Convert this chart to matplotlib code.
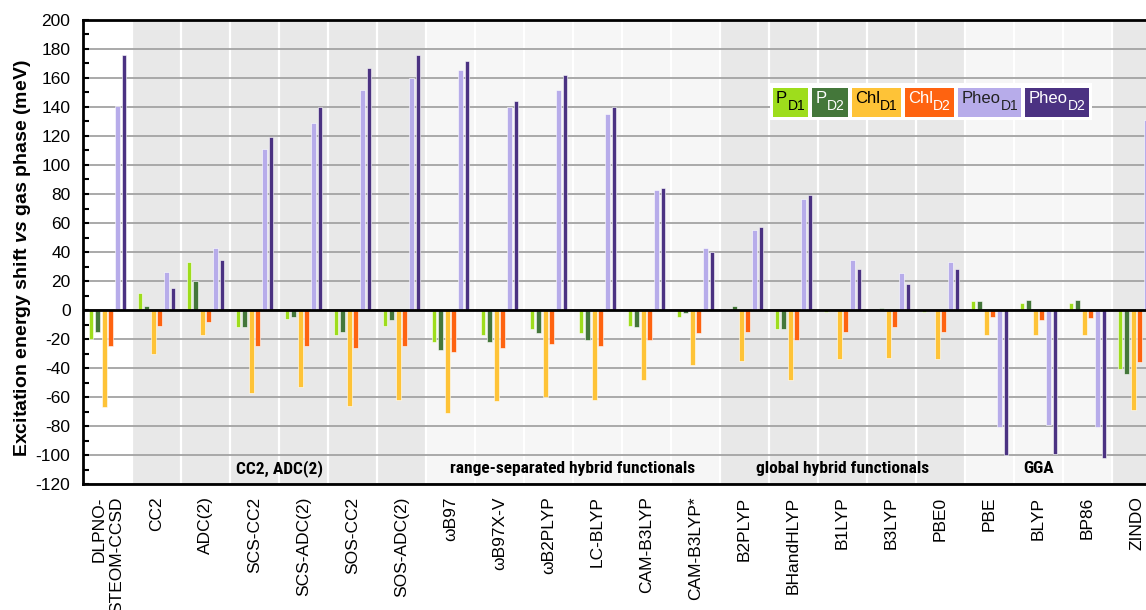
import matplotlib
matplotlib.use("Agg")
import matplotlib.pyplot as plt
from matplotlib import font_manager
from matplotlib.patches import Rectangle
from matplotlib.ticker import MultipleLocator
import numpy as np

plt.rcParams['font.family'] = ['Liberation Sans', 'DejaVu Sans']
plt.rcParams['axes.unicode_minus'] = False
plt.rcParams['mathtext.fontset'] = 'custom'
plt.rcParams['mathtext.rm'] = 'Liberation Sans'
plt.rcParams['mathtext.it'] = 'Liberation Sans:italic'
plt.rcParams['mathtext.bf'] = 'Liberation Sans:bold'
plt.rcParams['mathtext.bfit'] = 'Liberation Sans:bold:italic'
plt.rcParams['mathtext.default'] = 'regular'

methods = ["DLPNO-\nSTEOM-CCSD", "CC2", "ADC(2)", "SCS-CC2", "SCS-ADC(2)", "SOS-CC2",
           "SOS-ADC(2)", "ωB97", "ωB97X-V", "ωB2PLYP", "LC-BLYP", "CAM-B3LYP",
           "CAM-B3LYP*", "B2PLYP", "BHandHLYP", "B1LYP", "B3LYP", "PBE0", "PBE",
           "BLYP", "BP86", "ZINDO"]

# excitation energy shifts (meV) per pigment
p_d1 = [-20, 12, 33, -12, -6, -17, -11, -22, -17, -13, -16, -11, -4.5, 1, -13, -1.5, 0, -1.5, 6.5, 5, 5, -41]
p_d2 = [-15, 3, 20, -12, -4.5, -15, -7, -27.5, -22, -16, -21, -12, -2, 3, -13, 0, 1.5, 0, 6.5, 7, 7, -44]
chl_d1 = [-67, -30, -17, -57, -53, -66, -62, -71, -63, -60, -62, -48, -38, -35, -48, -34, -33, -34, -17, -17, -17, -69]
chl_d2 = [-25, -11, -8, -25, -25, -26, -25, -29, -26.5, -23.5, -25, -21, -16, -15, -21, -15, -12, -15, -4.5, -7, -5.5, -36]
pheo_d1 = [141, 26, 43, 111, 129, 152, 160, 165.5, 140, 152, 135, 83, 43, 55, 76.5, 34.5, 25.5, 33, -81, -79, -81, 131]
pheo_d2 = [176, 15, 34.5, 119, 140, 167, 176, 172, 144, 162, 140, 84, 40, 57.5, 79, 28, 18, 28, -100, -99, -102, 150]

series = [p_d1, p_d2, chl_d1, chl_d2, pheo_d1, pheo_d2]
legend_names = ["P", "P", "Chl", "Chl", "Pheo", "Pheo"]
legend_subs = ["D1", "D2", "D1", "D2", "D1", "D2"]
colors = ["#9edd1c", "#44773a", "#fec337", "#fe6310", "#b7acea", "#4b3282"]
text_colors = ["black", "white", "black", "white", "#222222", "white"]

# method families: (first index, last index, label, shade)
groups = [(1, 6, "CC2, ADC(2)", "#e8e8e8"),
          (7, 12, "range-separated hybrid functionals", "#f6f6f6"),
          (13, 17, "global hybrid functionals", "#e8e8e8"),
          (18, 20, "GGA", "#f6f6f6"),
          (21, 21, "", "#e8e8e8")]

# narrow bold face for the family captions, if one is installed
installed = {f.name for f in font_manager.fontManager.ttflist}
if "Roboto Condensed" in installed:
    group_font = dict(family="Roboto Condensed", fontsize=12.5)
elif "Liberation Sans Narrow" in installed:
    group_font = dict(family="Liberation Sans Narrow", fontsize=12.5)
else:
    group_font = dict(family="Liberation Sans", fontsize=10.5)

W, H = 1146, 610
fig = plt.figure(figsize=(W / 100, H / 100), dpi=100)
ax = fig.add_axes([83 / W, 1 - 484 / H, 1078 / W, 464 / H])

x = np.arange(len(methods))
for start, stop, name, shade in groups:
    ax.axvspan(start - 0.5, stop + 0.5, color=shade, lw=0, zorder=0.1)
    for b in range(start, stop + 1):
        ax.axvline(b - 0.5, color="white", lw=1.6, zorder=0.2)
    if name:
        ax.text((start + stop) / 2, -109, name, ha="center", va="center",
                fontweight="bold", zorder=4, **group_font)

step, width = 0.135, 0.1
for j, vals in enumerate(series):
    ax.bar(x + (j - 2.5) * step, vals, width=width, color=colors[j],
           edgecolor="white", linewidth=0.4, zorder=2)

ax.axhline(0, color="black", lw=2, zorder=3)
ax.set_xlim(-0.5, len(methods) - 0.5)
ax.set_ylim(-120, 200)
ax.yaxis.set_major_locator(MultipleLocator(20))
ax.yaxis.set_minor_locator(MultipleLocator(10))
ax.set_axisbelow(True)
ax.yaxis.grid(True, color="#a3a3a3", lw=1.3)
ax.tick_params(axis="y", which="both", direction="in", length=4, width=1.5,
               labelsize=12.5, pad=9)
ax.set_xticks(x)
ax.set_xticklabels(methods, rotation=90, ha="center", va="top",
                   multialignment="right")
ax.tick_params(axis="x", length=0, labelsize=12.5, pad=9)
for s in ax.spines.values():
    s.set_linewidth(2)

ax.set_ylabel(r"$\mathbf{Excitation\ energy\ shift}\ \mathbfit{vs}\ \mathbf{gas\ phase\ (meV)}$",
              fontsize=14)
ax.yaxis.set_label_coords(-0.046, 0.487)

# legend: labels printed inside coloured boxes, measured in pixels
fig.canvas.draw()
renderer = fig.canvas.get_renderer()
xpos = 773
box_top, box_bot = H - 88, H - 117
base_main, base_sub = H - 103, H - 109.5
for name, sub, col, tc in zip(legend_names, legend_subs, colors, text_colors):
    t1 = fig.text((xpos + 3) / W, base_main / H, name, ha="left", va="baseline",
                  color=tc, fontsize=12, zorder=6)
    fig.canvas.draw()
    e1 = t1.get_window_extent(renderer)
    t2 = fig.text((e1.x1 + 0.5) / W, base_sub / H, sub, ha="left", va="baseline",
                  color=tc, fontsize=10, zorder=6)
    fig.canvas.draw()
    e2 = t2.get_window_extent(renderer)
    right = e2.x1 + 3
    fig.patches.append(Rectangle((xpos / W, box_bot / H), (right - xpos) / W,
                                 (box_top - box_bot) / H, transform=fig.transFigure,
                                 fc=col, ec="none", zorder=5))
    xpos = right + 4
fig.patches.append(Rectangle((770 / W, (H - 120) / H), (xpos - 1 - 770) / W, 37 / H,
                             transform=fig.transFigure, fc="white", ec="none",
                             zorder=4))

fig.savefig("out.png", dpi=100)
